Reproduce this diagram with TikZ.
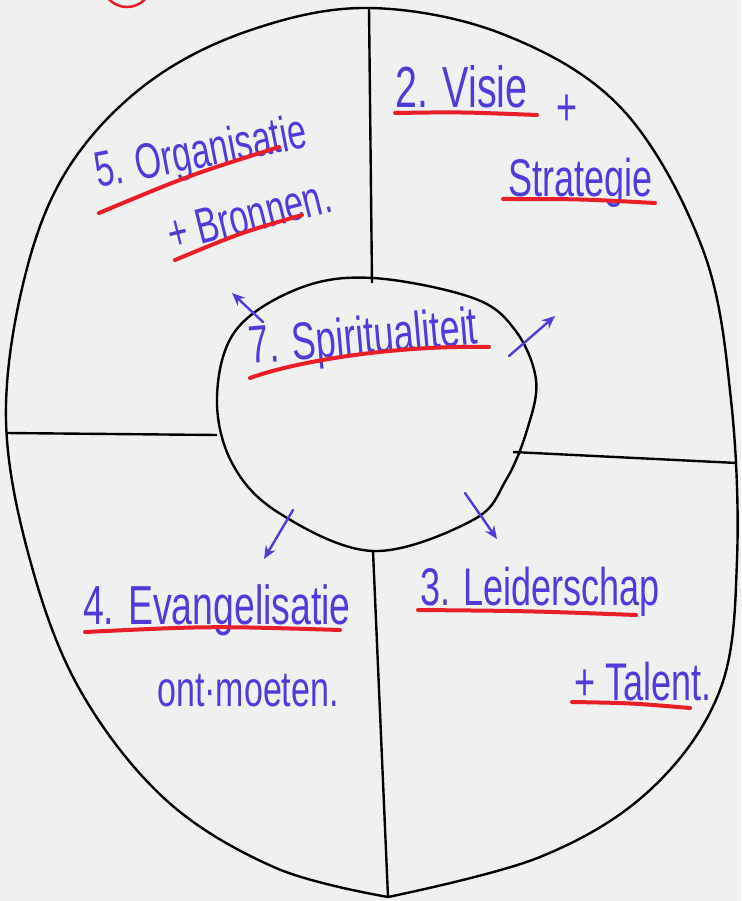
\documentclass[tikz,border=0pt]{standalone}
\usepackage{fontspec}
\setmainfont{Liberation Sans}[FakeStretch=0.68]
\usetikzlibrary{arrows.meta}
\definecolor{paper}{RGB}{238,241,240}
\definecolor{ink}{RGB}{78,60,218}
\definecolor{marker}{RGB}{232,30,40}
\tikzset{
  hw/.style={text=ink, font=\fontsize{53}{53}\selectfont, inner sep=0pt, anchor=base west},
  redline/.style={draw=marker, line width=4pt, line cap=round},
  blk/.style={draw=black, line width=2.4pt, line join=round},
  bluearrow/.style={draw=ink, line width=2.4pt, line cap=round, -{Stealth[open,length=13pt,width=11pt]}}
}
\begin{document}
\begin{tikzpicture}[x=1pt,y=-1pt]
\fill[paper] (0,0) rectangle (741,901);
\useasboundingbox (0,0) rectangle (741,901);
\begin{scope}
\clip (0,0) rectangle (741,901);
\draw[draw=marker, line width=2.5pt] (127,-18) circle (25);
\end{scope}
% outer egg
\draw[blk] plot[smooth, tension=0.6] coordinates {(388,897) (540,857) (650,790) (720,690) (737,560) (731,400) (703,250) (623,110) (505,35) (369,8) (248,31) (145,85) (67,170) (24,280) (6,420) (30,560) (80,690) (166,800) (276,868) (388,897)};
% inner circle
\draw[blk] plot[smooth cycle, tension=0.6] coordinates {(373,278) (473,298) (515,330) (536,380) (527,430) (506,480) (473,520) (373,551) (279,513) (232,463) (217,397) (236,330) (300,288)};
% dividers
\coordinate (tt) at (369,8); \coordinate (tb) at (372,283);
\coordinate (bt) at (373,551); \coordinate (bb) at (388,897);
\coordinate (ll) at (6,433); \coordinate (lr) at (217,435);
\coordinate (rl) at (513,452); \coordinate (rr) at (737,463);
\draw[blk] (tt) -- (tb);
\draw[blk] (bt) -- (bb);
\draw[blk] (ll) -- (lr);
\draw[blk] (rl) -- (rr);
% arrows
\coordinate (a1s) at (263,322); \coordinate (a1e) at (232,293);
\coordinate (a2s) at (509,356); \coordinate (a2e) at (555,316);
\coordinate (a3s) at (293,510); \coordinate (a3e) at (264,559);
\coordinate (a4s) at (465,493); \coordinate (a4e) at (497,539);
\draw[bluearrow] (a1s) -- (a1e);
\draw[bluearrow] (a2s) -- (a2e);
\draw[bluearrow] (a3s) -- (a3e);
\draw[bluearrow] (a4s) -- (a4e);
% texts
\node[hw, font=\fontsize{58}{58}\selectfont] (visie) at (395,108) {2. Visie};
\node[hw, anchor=center] (plus) at (567,110) {+};
\node[hw] (strat) at (508,197) {Strategie};
\node[hw, rotate=11, font=\fontsize{50}{50}\selectfont] (org) at (98,188) {5. Organisatie};
\node[hw, rotate=14, font=\fontsize{50}{50}\selectfont] (bron) at (172,252) {+ Bronnen.};
\node[hw, rotate=5] (spir) at (250,364) {7. Spiritualiteit};
\node[hw, font=\fontsize{55}{55}\selectfont] (evan) at (83,624) {4. Evangelisatie};
\node[hw, font=\fontsize{50}{50}\selectfont] (ont) at (157,706) {ont·moeten.};
\node[hw] (leid) at (420,605) {3. Leiderschap};
\node[hw] (tal) at (574,700) {+ Talent.};
% red underlines
\draw[redline] (395,113) .. controls (460,112) .. (537,115);
\draw[redline] (503,199) .. controls (580,199) .. (655,203);
\draw[redline] (99,213) .. controls (190,175) .. (279,147);
\draw[redline] (175,260) .. controls (240,233) .. (302,215);
\draw[redline] (250,378) .. controls (300,360) and (400,345) .. (489,347);
\draw[redline] (85,632) .. controls (210,626) .. (340,630);
\draw[redline] (418,610) .. controls (530,611) .. (636,615);
\draw[redline] (572,702) .. controls (630,703) .. (690,708);
\end{tikzpicture}
\end{document}
